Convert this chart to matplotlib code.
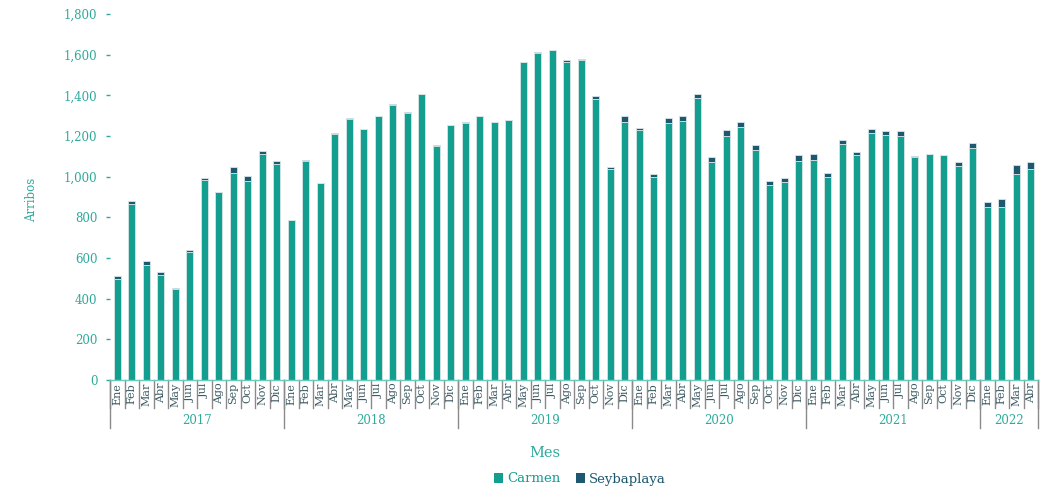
import matplotlib
matplotlib.use("Agg")
import matplotlib.pyplot as plt
from matplotlib.ticker import FuncFormatter
import numpy as np

months = ["Ene", "Feb", "Mar", "Abr", "May", "Jun", "Jul", "Ago", "Sep", "Oct", "Nov", "Dic"]
years = ["2017", "2018", "2019", "2020", "2021", "2022"]
months_per_year = [12, 12, 12, 12, 12, 4]

carmen = [
    495, 864, 566, 515, 448, 631, 984, 923, 1018, 979, 1110, 1060,   # 2017
    786, 1079, 970, 1212, 1284, 1233, 1296, 1352, 1311, 1407, 1152, 1253,  # 2018
    1265, 1298, 1268, 1278, 1564, 1610, 1622, 1565, 1576, 1384, 1036, 1267,  # 2019
    1231, 998, 1264, 1275, 1388, 1074, 1200, 1246, 1133, 961, 972, 1079,  # 2020
    1082, 1000, 1161, 1108, 1216, 1205, 1200, 1098, 1111, 1107, 1054, 1143,  # 2021
    852, 852, 1013, 1038,  # 2022
]
seybaplaya = [
    15, 16, 18, 18, 6, 8, 9, 4, 30, 24, 18, 19,
    3, 3, 1, 1, 5, 1, 1, 5, 5, 1, 5, 1,
    2, 2, 2, 2, 1, 1, 1, 7, 1, 11, 12, 30,
    7, 13, 25, 25, 20, 21, 30, 24, 21, 16, 21, 29,
    30, 20, 17, 13, 17, 20, 25, 4, 1, 1, 20, 24,
    25, 36, 44, 34,
]

month_labels = []
for n in months_per_year:
    month_labels += months[:n]

C_CARMEN = "#149e90"
C_SEY = "#1d5870"
C_TEAL_TXT = "#2eaa9c"
C_MONTH = "#3c5a62"
C_SEP = "#8a8a8a"

plt.rcParams["font.family"] = ["DejaVu Serif", "DejaVu Sans"]

fig = plt.figure(figsize=(10.45, 4.91), dpi=100)
ax = fig.add_axes([110 / 1045, 1 - 380 / 491, (1038 - 110) / 1045, (380 - 14) / 491])

x = np.arange(len(carmen))
ax.bar(x, carmen, width=0.45, color=C_CARMEN, edgecolor="#d6e6e6", linewidth=0.6, label="Carmen", zorder=2)
ax.bar(x, seybaplaya, width=0.45, bottom=carmen, color=C_SEY, edgecolor="#d6e6e6", linewidth=0.6,
       label="Seybaplaya", zorder=2)

ax.set_xlim(-0.5, len(carmen) - 0.5)
ax.set_ylim(0, 1800)
ax.set_yticks(np.arange(0, 1801, 200))
ax.yaxis.set_major_formatter(FuncFormatter(lambda v, p: f"{int(v):,}"))
ax.tick_params(axis="y", colors=C_TEAL_TXT, labelsize=8.5, length=3, width=1, pad=6)
for sp in ["left", "right", "top"]:
    ax.spines[sp].set_visible(False)
ax.spines["bottom"].set_color("#6ccabd")
ax.spines["bottom"].set_linewidth(1.0)

ax.set_xticks(x)
ax.set_xticklabels(month_labels, rotation=90, fontsize=8, color=C_MONTH)
ax.tick_params(axis="x", length=0, pad=2)

trans = ax.get_xaxis_transform()
ax_h = 366.0
m_depth = 28 / ax_h
y_depth = 48 / ax_h
for i in range(len(carmen) + 1):
    ax.plot([i - 0.5, i - 0.5], [0, -m_depth], transform=trans, color=C_SEP, lw=1.0, clip_on=False)

start = 0
bounds = [0]
for n in months_per_year:
    start += n
    bounds.append(start)
for b in bounds:
    ax.plot([b - 0.5, b - 0.5], [0, -y_depth], transform=trans, color=C_SEP, lw=1.0, clip_on=False)
for yr, a, b in zip(years, bounds[:-1], bounds[1:]):
    ax.text((a + b - 1) / 2, -41 / ax_h, yr, transform=trans, ha="center", va="center",
            fontsize=8.5, color=C_TEAL_TXT)

fig.text(545 / 1045, 1 - 453 / 491, "Mes", ha="center", va="center", fontsize=10.5, color=C_TEAL_TXT)
fig.text(32 / 1045, 1 - 200 / 491, "Arribos", ha="center", va="center", rotation=90, fontsize=8.5,
         color=C_TEAL_TXT)

leg = fig.legend(loc="center", bbox_to_anchor=(580 / 1045, 1 - 479 / 491), ncol=2, frameon=False,
                 fontsize=9.5, handlelength=0.7, handleheight=0.7, handletextpad=0.3, columnspacing=1.2)
for t, c in zip(leg.get_texts(), [C_CARMEN, C_SEY]):
    t.set_color(c)
for h in leg.legend_handles:
    h.set_edgecolor("none")

fig.savefig("out.png", dpi=100)
